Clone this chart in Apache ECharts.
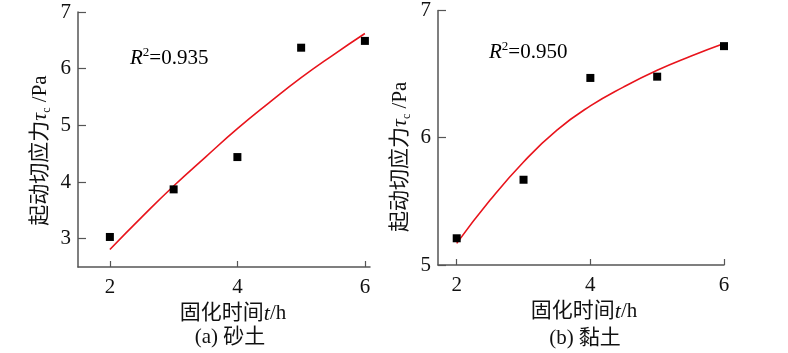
<!DOCTYPE html>
<html>
<head>
<meta charset="utf-8">
<script src="https://cdn.jsdelivr.net/npm/echarts@6/dist/echarts.min.js"></script>
<style>
  html, body { margin: 0; padding: 0; background: #fff; }
  #main { width: 788px; height: 353px; }
</style>
</head>
<body>
<div id="main"></div>
<script>
var FONT = "'Liberation Serif', 'Noto Sans CJK SC', serif"

// measured points
var timeH = [2, 3, 4, 5, 6]
var sandVals = [3.03, 3.87, 4.44, 6.37, 6.49]
var clayVals = [5.21, 5.67, 6.47, 6.48, 6.72]

// fitted curves
var fitX = [2, 2.5, 3, 3.5, 4, 4.5, 5, 5.5, 6]
var sandFit = [2.81, 3.38, 3.93, 4.44, 4.94, 5.40, 5.84, 6.24, 6.62]
var clayFit = [5.17, 5.51, 5.81, 6.06, 6.25, 6.40, 6.53, 6.64, 6.74]

var xTicks = [2, 4, 6]
var sandYTicks = [3, 4, 5, 6, 7]
var clayYTicks = [5, 6, 7]

function pairs (xs, ys) {
  return xs.map(function (x, i) { return [x, ys[i]] })
}

var myChart = echarts.init(document.getElementById('main'))

var richName = {
  n: { fontFamily: FONT, fontSize: 21, color: '#111', lineHeight: 26 },
  i: { fontFamily: FONT, fontSize: 22, fontStyle: 'italic', color: '#111', lineHeight: 26 },
  sub: { fontFamily: FONT, fontSize: 12, color: '#111', verticalAlign: 'bottom', lineHeight: 15 },
  sup: { fontFamily: FONT, fontSize: 12, color: '#111', verticalAlign: 'top', lineHeight: 15 }
}

function xAxisOf (idx, min, max, padLeft) {
  return {
    type: 'value',
    gridIndex: idx,
    min: min,
    max: max,
    name: '{n|固化时间}{i|t}{n|/h}',
    nameLocation: 'middle',
    nameGap: 32,
    nameTextStyle: { rich: richName, padding: [0, 0, 0, padLeft] },
    splitLine: { show: false },
    axisLine: { lineStyle: { color: '#555', width: 1.5 } },
    axisTick: { inside: true, length: 6, customValues: xTicks, lineStyle: { color: '#555', width: 1.2 } },
    axisLabel: { customValues: xTicks, margin: 10, fontFamily: FONT, fontSize: 21, color: '#111' }
  }
}

function yAxisOf (idx, min, max, ticks, padRight) {
  return {
    type: 'value',
    gridIndex: idx,
    min: min,
    max: max,
    name: '{n|起动切应力}{i|τ}{sub|c}{n| /Pa}',
    nameLocation: 'middle',
    nameRotate: 90,
    nameGap: 25,
    nameTextStyle: { rich: richName, padding: [0, padRight, 0, 0] },
    splitLine: { show: false },
    axisLine: { lineStyle: { color: '#555', width: 1.5 } },
    axisTick: { inside: true, length: 8, customValues: ticks, lineStyle: { color: '#555', width: 1.2 } },
    axisLabel: { customValues: ticks, margin: 7, fontFamily: FONT, fontSize: 21, color: '#111' }
  }
}

function r2Text (left, top, val) {
  return {
    type: 'text',
    left: left,
    top: top,
    style: {
      text: '{r|R}{sup|2}{n|=' + val + '}',
      rich: {
        r: { fontFamily: FONT, fontSize: 21, fontStyle: 'italic', color: '#111', lineHeight: 24 },
        sup: { fontFamily: FONT, fontSize: 13, color: '#111', verticalAlign: 'top', lineHeight: 14 },
        n: { fontFamily: FONT, fontSize: 21, color: '#111', lineHeight: 24 }
      }
    }
  }
}

function caption (cx, cy, txt) {
  return {
    type: 'text',
    x: cx,
    y: cy,
    style: {
      text: txt,
      fontFamily: FONT,
      fontSize: 21,
      fill: '#111',
      align: 'center',
      verticalAlign: 'middle'
    }
  }
}

var option = {
  backgroundColor: '#fff',
  animation: false,
  grid: [
    { left: 78, top: 12, width: 292, height: 255 },
    { left: 438, top: 10, width: 286, height: 255 }
  ],
  xAxis: [
    xAxisOf(0, 1.5, 6.08, 18),
    xAxisOf(1, 1.72, 6, 6)
  ],
  yAxis: [
    yAxisOf(0, 2.5, 7, sandYTicks, 22),
    yAxisOf(1, 5, 7, clayYTicks, 38)
  ],
  graphic: [
    r2Text(130, 46, '0.935'),
    r2Text(489, 40, '0.950'),
    caption(230, 337, '(a) 砂土'),
    caption(585, 338, '(b) 黏土')
  ],
  series: [
    {
      name: '砂土拟合',
      type: 'line',
      xAxisIndex: 0,
      yAxisIndex: 0,
      data: pairs(fitX, sandFit),
      smooth: true,
      showSymbol: false,
      lineStyle: { color: '#e8141c', width: 1.6 },
      z: 2
    },
    {
      name: '砂土',
      type: 'scatter',
      xAxisIndex: 0,
      yAxisIndex: 0,
      data: pairs(timeH, sandVals),
      symbol: 'rect',
      symbolSize: 8,
      itemStyle: { color: '#000', opacity: 1 },
      z: 3
    },
    {
      name: '黏土拟合',
      type: 'line',
      xAxisIndex: 1,
      yAxisIndex: 1,
      data: pairs(fitX, clayFit),
      smooth: true,
      showSymbol: false,
      lineStyle: { color: '#e8141c', width: 1.6 },
      z: 2
    },
    {
      name: '黏土',
      type: 'scatter',
      xAxisIndex: 1,
      yAxisIndex: 1,
      data: pairs(timeH, clayVals),
      symbol: 'rect',
      symbolSize: 8,
      itemStyle: { color: '#000', opacity: 1 },
      z: 3
    }
  ]
}

option && myChart.setOption(option)
</script>
</body>
</html>
